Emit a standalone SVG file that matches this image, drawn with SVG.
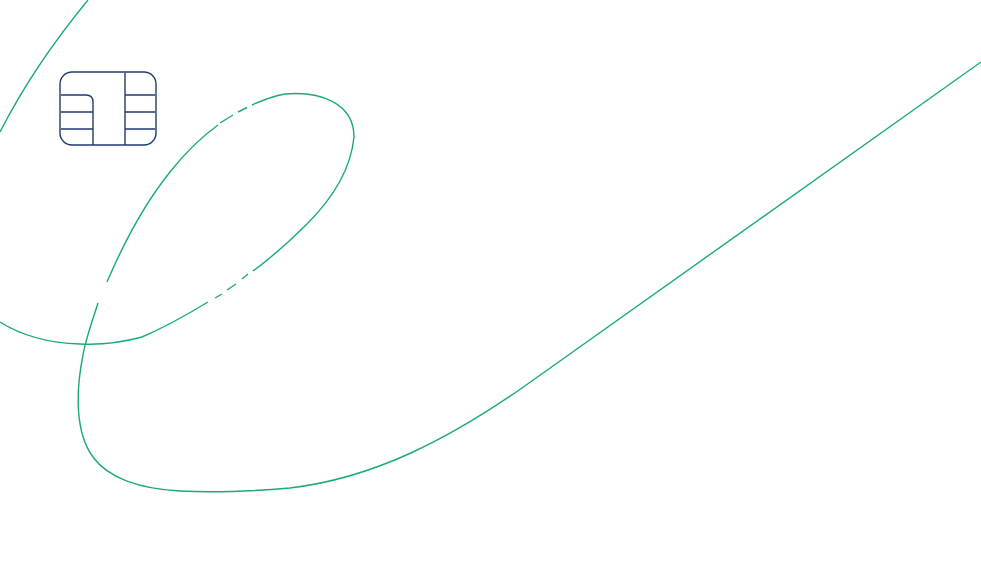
<svg xmlns="http://www.w3.org/2000/svg" width="981" height="570" viewBox="0 0 981 570">
  <style>
    .curve { fill: none; stroke: #1aa97f; stroke-width: 1.4; stroke-linecap: butt; }
    .chip { fill: none; stroke: #1f3a73; stroke-width: 1.4; }
  </style>
  <rect width="981" height="570" fill="#ffffff"/>
  <g id="connectors">
    <path class="curve" d="M88 0C55 40 25 83 0 132"/>
    <path class="curve" d="M981 62L522 388C450 438 375 478 290 488C255 491 215 493 180 491C140 489 108 478 93 457C76 434 75 395 83 355C86 338 92 322 98 303"/>
    <path class="curve" d="M107 282C125 240 145 203 170 172C185 153 200 138 218 125"/>
    <path class="curve" d="M220 123L233 115"/>
    <path class="curve" d="M238 112L247 107.500"/>
    <path class="curve" d="M252 105C263 100 274 96 285 94C320 91 354 103 354 137C351 168 335 196 307 224C292 239 272 257 253 271"/>
    <path class="curve" d="M248 274L242 279"/>
    <path class="curve" d="M236 284L227 290"/>
    <path class="curve" d="M222 294L215 298"/>
    <path class="curve" d="M208 302C185 316 163 328 142 337C120 343 100 345 80 344C50 343 22 336 0 322"/>
  </g>
  <g id="chip">
    <rect class="chip" x="60" y="72" width="96" height="73" rx="12" ry="12"/>
    <path class="chip" d="M61 95H86Q93 95 93 102V145M61 112H93M61 129H93M125 73V145M125 95H155M125 112H155M125 129H155"/>
  </g>
</svg>
